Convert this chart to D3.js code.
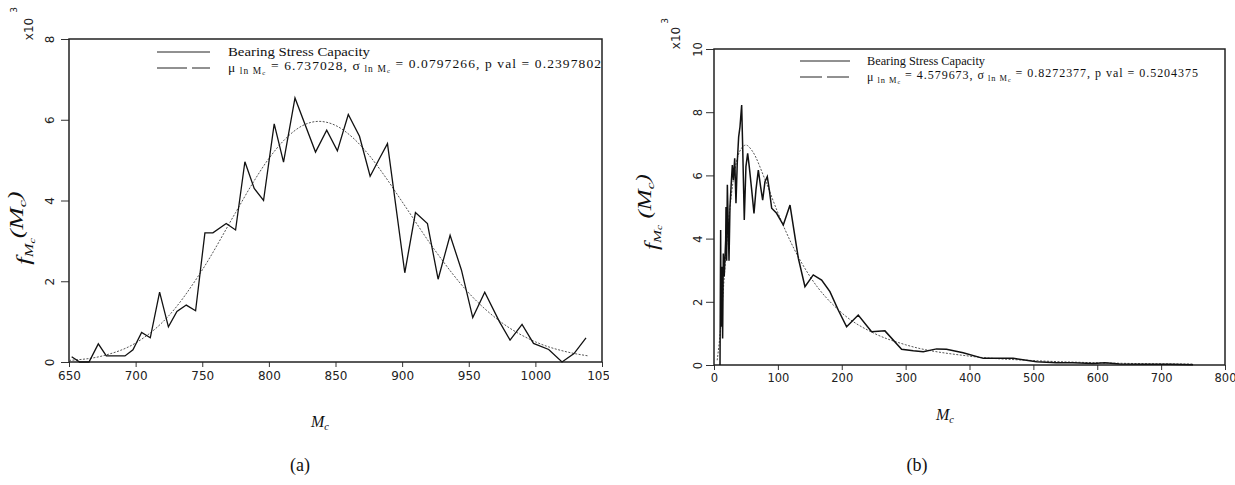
<!DOCTYPE html>
<html lang="en">
	<head>
		<meta charset="utf-8">
		<title>Bearing stress capacity pdf</title>
		<script type="text/javascript" src="https://cdn.jsdelivr.net/npm/d3@7"></script>
		<style type="text/css">
			body { margin: 0; background: #fff; }
			.tick line { stroke: #333; }
			.serif { font-family: "Liberation Serif", "DejaVu Serif", serif; fill: #111; }
			.sans { font-family: "DejaVu Sans", sans-serif; fill: #222; }
		</style>
	</head>
	<body>
		<script type="text/javascript">

			var w = 1235;
			var h = 485;

			//Panel (a): histogram line
			var leftX = [652,658,665,672,678,692,698,704.5,711,718,724.6,731,738,745,752,758,768,775,782,789,
			             796,804,811,819.6,835,843.4,851.4,859.6,868,876,883,889,902,910,919,927,936,944.5,953,962,
			             973,981,990,998.6,1010,1020,1029,1038];
			var leftY = [0.13,0,0,0.45,0.15,0.15,0.3,0.73,0.6,1.73,0.87,1.25,1.41,1.27,3.2,3.2,3.43,3.27,4.96,4.3,
			             4.0,5.9,4.95,6.54,5.2,5.74,5.23,6.13,5.59,4.6,5.04,5.41,2.21,3.7,3.43,2.05,3.14,2.28,1.1,1.73,
			             1.0,0.54,0.93,0.46,0.31,0.0,0.21,0.6];
			//Panel (a): fitted curve
			var leftFitX = [650,675,700,725,750,775,787.5,800,812.5,825,837.5,850,862.5,875,887.5,900,925,950,975,1000,1025,1040];
			var leftFitY = [0.04,0.15,0.47,1.15,2.28,3.7,4.41,5.04,5.53,5.85,5.96,5.86,5.57,5.13,4.58,3.97,2.75,1.71,0.97,0.5,0.24,0.15];
			var leftXTicks = [650,700,750,800,850,900,950,1000,1050];
			var leftYTicks = [0,2,4,6,8];

			//Panel (b): histogram line
			var rightX = [9.4,10.4,11,12.5,13.5,14.6,16,18.3,18.8,19.8,20.9,23.5,25,27,28.7,30.3,32.4,34.4,36.5,38.6,
			              40.7,43.3,44.9,47.4,50,52.7,55.2,59,62.6,65.7,69.4,73,76.2,79.8,83.4,86.6,90.3,98,108.5,119,
			              132,142.4,155.4,168.5,181.5,194.5,207.6,225.8,246.7,267.6,293.7,312,327.6,348.5,364,390,421.5,468.4,505,536,
			              562,593.5,612,635,677,713.6,750];
			var rightY = [0,4.27,1.21,3.11,0.84,3.53,2.8,3.96,5.0,3.3,5.7,3.3,5.0,5.75,6.33,5.85,6.54,5.12,6.44,7.22,
			              7.54,8.23,6.91,4.59,6.28,6.7,6.28,5.54,4.8,5.54,6.17,5.64,5.22,5.8,5.96,5.54,4.96,4.8,4.43,5.06,
			              3.38,2.48,2.85,2.69,2.32,1.74,1.21,1.58,1.05,1.08,0.5,0.45,0.42,0.51,0.5,0.39,0.21,0.21,0.1,0.07,
			              0.07,0.05,0.07,0.03,0.02,0.02,0.01];
			//Panel (b): fitted curve
			var rightFitX = [5,10,15,20,30,40,50,60,80,100,125,150,200,250,300,400,500,600,750];
			var rightFitY = [0.15,1.09,2.49,3.86,5.83,6.75,6.96,6.77,5.86,4.82,3.69,2.81,1.65,1.01,0.64,0.28,0.14,0.07,0.03];
			var rightXTicks = [0,100,200,300,400,500,600,700,800];
			var rightYTicks = [0,2,4,6,8,10];

			var legendName = "Bearing Stress Capacity";
			var leftStats = ["6.737028", "0.0797266", "0.2397802"];
			var rightStats = ["4.579673", "0.8272377", "0.5204375"];

			var svg = d3.select("body")
						.append("svg")
						.attr("width", w)
						.attr("height", h);

			var defs = svg.append("defs");

			function drawPanel(p) {
				var xScale = d3.scaleLinear().domain(p.xDomain).range([p.left, p.right]);
				var yScale = d3.scaleLinear().domain(p.yDomain).range([p.bottom, p.top]);

				//clip for the cut-off last tick label (in the axis group's own coords)
				defs.append("clipPath").attr("id", p.id + "-clip")
					.append("rect").attr("x", p.left - 30).attr("y", -5)
					.attr("width", p.clipRight - p.left + 30).attr("height", 40);

				//X axis
				var gx = svg.append("g")
					.attr("transform", "translate(0," + p.bottom + ")")
					.attr("clip-path", "url(#" + p.id + "-clip)")
					.call(d3.axisBottom(xScale).tickValues(p.xTicks).tickSize(5).tickPadding(4).tickFormat(d3.format("d")));
				gx.select(".domain").remove();
				gx.selectAll("text").attr("class", "sans").style("font-size", p.tickFont + "px").attr("font-family", null);

				//Y axis, labels turned on their side
				var gy = svg.append("g")
					.attr("transform", "translate(" + p.left + ",0)")
					.call(d3.axisLeft(yScale).tickValues(p.yTicks).tickSize(8));
				gy.select(".domain").remove();
				gy.selectAll("text")
					.attr("class", "sans").attr("font-family", null)
					.style("font-size", p.tickFont + "px")
					.attr("x", 0).attr("dy", 0)
					.attr("text-anchor", "middle")
					.attr("transform", "translate(" + p.yLabelOff + ",0) rotate(-90)");

				//frame
				svg.append("rect")
					.attr("x", p.left).attr("y", p.top)
					.attr("width", p.right - p.left).attr("height", p.bottom - p.top)
					.attr("fill", "none").attr("stroke", "#222").attr("stroke-width", 1.5);

				//fitted curve
				var fitLine = d3.line()
					.x(function(d) { return xScale(d[0]); })
					.y(function(d) { return yScale(d[1]); })
					.curve(d3.curveMonotoneX);
				svg.append("path")
					.datum(d3.zip(p.fitX, p.fitY))
					.attr("d", fitLine)
					.attr("fill", "none")
					.attr("stroke", "#555")
					.attr("stroke-width", 1)
					.attr("stroke-dasharray", "2,1.5");

				//histogram line
				var dataLine = d3.line()
					.x(function(d) { return xScale(d[0]); })
					.y(function(d) { return yScale(d[1]); });
				svg.append("path")
					.datum(d3.zip(p.dataX, p.dataY))
					.attr("d", dataLine)
					.attr("fill", "none")
					.attr("stroke", "#111")
					.attr("stroke-width", p.lineWidth)
					.attr("stroke-linejoin", "miter");

				//x10^3
				svg.append("text").attr("class", "sans")
					.attr("transform", "translate(" + p.expX + "," + p.expY + ") rotate(-90)")
					.attr("text-anchor", "middle").style("font-size", "12px")
					.text("x10");
				svg.append("text").attr("class", "sans")
					.attr("transform", "translate(" + p.supX + "," + p.supY + ") rotate(-90)")
					.attr("text-anchor", "middle").style("font-size", "9px")
					.text("3");

				//y label f_Mc(M_c), stretched along its length like the scan
				var yl = svg.append("text").attr("class", "serif")
					.attr("transform", "translate(" + p.yTitleX + "," + p.yTitleY + ") rotate(-90) scale(1.4,1)")
					.attr("text-anchor", "middle")
					.style("font-size", p.yTitleFont + "px")
					.style("font-style", "italic");
				yl.append("tspan").text("f");
				yl.append("tspan").attr("dy", "0.25em").style("font-size", "0.62em").text("M");
				yl.append("tspan").attr("dy", "0.2em").style("font-size", "0.45em").text("c");
				yl.append("tspan").attr("dy", "-0.62em").text(p.gap + "(M");
				yl.append("tspan").attr("dy", "0.25em").style("font-size", "0.6em").text("c");
				yl.append("tspan").attr("dy", "-0.25em").text(")");

				//x label M_c
				var xl = svg.append("text").attr("class", "serif")
					.attr("x", p.xTitleX).attr("y", p.xTitleY)
					.attr("text-anchor", "middle")
					.style("font-size", "16px").style("font-style", "italic");
				xl.append("tspan").text("M");
				xl.append("tspan").attr("dy", "0.25em").style("font-size", "0.65em").text("c");

				//legend
				var lg = svg.append("g").attr("transform", "translate(" + p.legX + "," + p.legY + ")");
				lg.append("line").attr("x1", 0).attr("x2", p.legLen).attr("y1", 0).attr("y2", 0)
					.attr("stroke", "#222").attr("stroke-width", 1);
				lg.append("line").attr("x1", 0).attr("x2", p.legLen).attr("y1", p.legGap).attr("y2", p.legGap)
					.attr("stroke", "#222").attr("stroke-width", 1).attr("stroke-dasharray", p.legDash);
				lg.append("text").attr("class", "serif")
					.attr("x", p.legTextX).attr("y", 4)
					.attr("textLength", p.legNameLen)
					.attr("lengthAdjust", "spacingAndGlyphs")
					.style("font-size", p.legFont + "px")
					.text(legendName);
				var t2 = lg.append("text").attr("class", "serif")
					.attr("x", p.legTextX).attr("y", p.legGap + 4)
					.attr("textLength", p.legRowLen)
					.attr("lengthAdjust", "spacing")
					.style("font-size", p.legFont + "px");
				function sub(t) {
					t.append("tspan").attr("dy", "0.25em").style("font-size", "0.7em").text(" ln M");
					t.append("tspan").attr("dy", "0.15em").style("font-size", "0.5em").text("c");
					t.append("tspan").attr("dy", "-0.4em").text(" = ");
				}
				t2.append("tspan").text("\u03bc");
				sub(t2);
				t2.append("tspan").text(p.stats[0] + ", \u03c3");
				sub(t2);
				t2.append("tspan").text(p.stats[1] + ", p val = " + p.stats[2]);

				//panel caption
				svg.append("text").attr("class", "serif")
					.attr("x", p.capX).attr("y", 471)
					.attr("text-anchor", "middle")
					.style("font-size", "18px")
					.text(p.caption);
			}

			drawPanel({
				id: "a", caption: "(a)", capX: 300,
				left: 69, right: 602, top: 39, bottom: 362, clipRight: 609,
				xDomain: [650, 1050], yDomain: [0, 8],
				xTicks: leftXTicks, yTicks: leftYTicks,
				dataX: leftX, dataY: leftY, fitX: leftFitX, fitY: leftFitY,
				tickFont: 12, yLabelOff: -15, lineWidth: 1.3,
				expX: 33, expY: 29, supX: 17, supY: 10,
				yTitleX: 30, yTitleY: 228, yTitleFont: 19, gap: "",
				xTitleX: 320, xTitleY: 427,
				legX: 157, legY: 52, legLen: 53, legGap: 16, legDash: "30,5", legTextX: 71,
				legFont: 13.5, legNameLen: 142, legRowLen: 373,
				stats: leftStats
			});

			drawPanel({
				id: "b", caption: "(b)", capX: 917,
				left: 714, right: 1225, top: 49, bottom: 365, clipRight: 1240,
				xDomain: [0, 800], yDomain: [0, 10],
				xTicks: rightXTicks, yTicks: rightYTicks,
				tickFont: 11.5, yLabelOff: -12, lineWidth: 1.5,
				dataX: rightX, dataY: rightY, fitX: rightFitX, fitY: rightFitY,
				expX: 680, expY: 38, supX: 668, supY: 21,
				yTitleX: 658, yTitleY: 212, yTitleFont: 18, gap: " ",
				xTitleX: 945, xTitleY: 420,
				legX: 800, legY: 61, legLen: 50, legGap: 16, legDash: "22,5", legTextX: 67,
				legFont: 12, legNameLen: 118, legRowLen: 331,
				stats: rightStats
			});

		</script>
	</body>
</html>
